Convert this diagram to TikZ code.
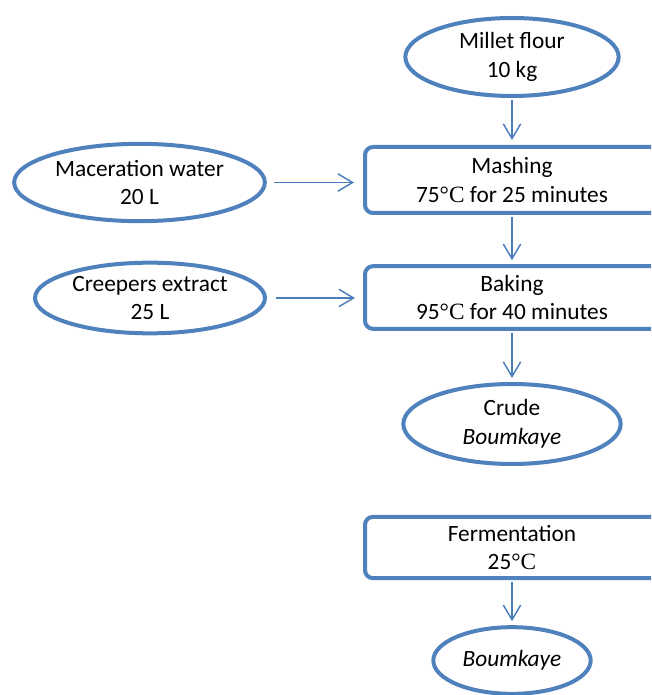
\documentclass[tikz,border=0pt]{standalone}
\usepackage{fontspec}
\setmainfont{Carlito}
\newfontfamily\degfont{Liberation Serif}
\usepackage{tikz}
\usetikzlibrary{positioning}
\usetikzlibrary{shapes.geometric}
\usetikzlibrary{arrows.meta}
\definecolor{boxblue}{RGB}{79,129,189}
\definecolor{lineblue}{RGB}{74,126,187}
\newcommand{\degC}{{\degfont\textdegree C}}

\begin{document}
\begin{tikzpicture}
      [x=0.75pt,y=-0.75pt,
       every node/.style={font=\fontsize{17.5}{21.5}\selectfont,align=center,inner sep=0pt},
       input/.style={ellipse,draw=boxblue,line width=3pt},
       stage/.style={rectangle,rounded corners=6pt,draw=boxblue,line width=3pt,minimum width=220.5pt},
       flow/.style={draw=lineblue,line width=1.1pt,-{Straight Barb[length=11pt,width=13pt]}}]
    \useasboundingbox (0,0) rectangle (651,695);
    \clip (0,0) rectangle (651,695);

    \node[input,minimum width=160pt,minimum height=58.5pt] (flour) at (512,57) {Millet flour\\10 kg};
    \node[stage,minimum height=49.5pt] (mash) at (512,180) {Mashing\\75\degC{} for 25 minutes};
    \node[input,minimum width=188pt,minimum height=58pt] (water) at (139.5,182.5) {Maceration water\\20 L};
    \node[stage,minimum height=47pt] (bake) at (512,297.5) {Baking\\95\degC{} for 40 minutes};
    \node[input,minimum width=172.5pt,minimum height=53pt] (creep) at (150,298) {Creepers extract\\25 L};
    \node[input,minimum width=163pt,minimum height=60pt] (crude) at (512,424) {Crude\\\textit{Boumkaye}};
    \node[stage,minimum height=46pt] (ferm) at (512,547.5) {Fermentation\\25\degC};
    \node[input,minimum width=118pt,minimum height=50pt] (boum) at (512,660.5) {\textit{Boumkaye}};

    \path [flow] (flour) edge [shorten <=1.5pt,shorten >=3.75pt] (mash)
          (mash) edge [shorten <=1.5pt,shorten >=3pt] (bake)
          (bake) edge [shorten <=1.5pt,shorten >=3pt] (crude)
          (ferm) edge [shorten <=1.5pt,shorten >=3pt] (boum);
    \draw [flow,shorten <=5.25pt,shorten >=6.75pt] (water.east) -- (water.east -| mash.west);
    \draw [flow,shorten <=6.75pt,shorten >=6pt] (creep.east) -- (creep.east -| bake.west);
\end{tikzpicture}
\end{document}
